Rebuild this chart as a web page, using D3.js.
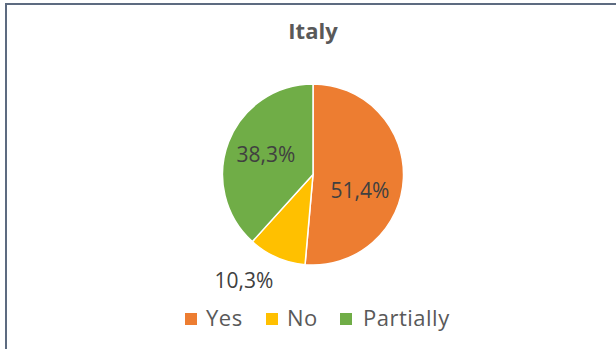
<!DOCTYPE html>
<html><head><meta charset="utf-8">
<script src="https://cdn.jsdelivr.net/npm/d3@7/dist/d3.min.js"></script>
<style>
html,body{margin:0;padding:0;background:#fff;}
svg{display:block;}
text{font-family:"Open Sans","Noto Sans",sans-serif;}
</style></head>
<body>
<svg id="chart" width="616" height="349"></svg>
<script>
const title = "Italy";
const categories = ["Yes", "No", "Partially"];
const values = [51.4, 10.3, 38.3];
const labels = ["51,4%", "10,3%", "38,3%"];
const colors = ["#ED7D31", "#FFC000", "#70AD47"];

const W = 616, H = 349;
const svg = d3.select("#chart");
svg.append("rect").attr("width", W).attr("height", H).attr("fill", "#fff");
// border (top and left visible)
svg.append("line").attr("x1", 5).attr("x2", W).attr("y1", 4).attr("y2", 4)
  .attr("stroke", "#5d6b80").attr("stroke-width", 2);
svg.append("line").attr("x1", 6).attr("x2", 6).attr("y1", 3).attr("y2", H)
  .attr("stroke", "#5d6b80").attr("stroke-width", 2);

svg.append("text").attr("x", 313).attr("y", 38.5).attr("text-anchor", "middle")
  .attr("font-size", 22).attr("font-weight", "bold").attr("fill", "#595959").text(title);

const cx = 313, cy = 174.5, R = 90.5;
const pie = d3.pie().sort(null).value(d => d)(values);
const arc = d3.arc().innerRadius(0).outerRadius(R);
const g = svg.append("g").attr("transform", `translate(${cx},${cy})`);
g.selectAll("path").data(pie).join("path")
  .attr("d", arc).attr("fill", (d, i) => colors[i])
  .attr("stroke", "#fff").attr("stroke-width", 1.5);

// label radii (fraction of R) and angular adjustments per slice
const labelR = [0.548, 1.393, 0.565];
const labelAngleShift = [0.284, 0.168, 0.036];
pie.forEach((d, i) => {
  const a = (d.startAngle + d.endAngle) / 2 + labelAngleShift[i];
  const r = R * labelR[i];
  g.append("text")
    .attr("x", Math.sin(a) * r).attr("y", -Math.cos(a) * r)
    .attr("dy", "0.36em").attr("text-anchor", "middle")
    .attr("font-size", 21).attr("fill", "#404040").text(labels[i]);
});

// legend
const legSquareX = [185, 266, 340];
const legTextX = [206, 287, 363];
const legend = svg.append("g");
categories.forEach((c, i) => {
  legend.append("rect").attr("x", legSquareX[i]).attr("y", 313).attr("width", 12).attr("height", 12)
    .attr("fill", colors[i]);
  legend.append("text").attr("x", legTextX[i]).attr("y", 325.5)
    .attr("font-size", 22).attr("letter-spacing", 0.5).attr("fill", "#595959").text(c);
});
</script>
</body></html>
